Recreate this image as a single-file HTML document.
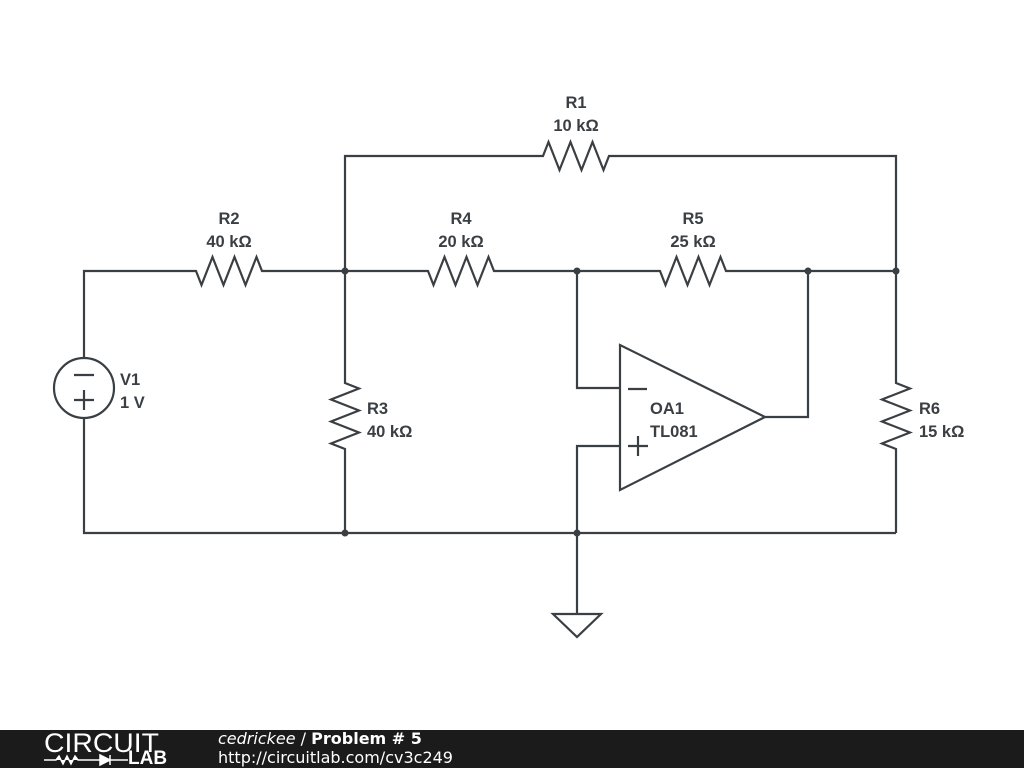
<!DOCTYPE html>
<html><head><style>
body{margin:0;background:#fff;width:1024px;height:768px;overflow:hidden;position:relative;font-family:"Liberation Sans","DejaVu Sans",sans-serif}
svg{position:absolute;left:0;top:0}
.t{font-family:"Liberation Sans","DejaVu Sans",sans-serif;font-weight:bold;font-size:16.5px;fill:#3a3f44}
#ft{position:absolute;left:0;top:730px;width:1024px;height:38px;background:#1b1b1b;color:#fff}
</style></head><body>
<svg width="1024" height="768" viewBox="0 0 1024 768">
<g fill="none" stroke="#3a3f44" stroke-width="2.2" stroke-linejoin="miter">
<path d="M345 271 V156 H543 l5.5 -14 l11 28 l11 -28 l11 28 l11 -28 l11 28 l5.5 -14 H896 V271"/>
<path d="M84 358 V271 H196 l5.5 14 l11 -28 l11 28 l11 -28 l11 28 l11 -28 l5.5 14 H345"/>
<path d="M345 271 H428 l5.5 14 l11 -28 l11 28 l11 -28 l11 28 l11 -28 l5.5 14 H577"/>
<path d="M577 271 H660 l5.5 14 l11 -28 l11 28 l11 -28 l11 28 l11 -28 l5.5 14 H896"/>
<path d="M345 271 V383 l14 5.5 l-28 11 l28 11 l-28 11 l28 11 l-28 11 l14 5.5 V533"/>
<path d="M896 271 V383 l14 5.5 l-28 11 l28 11 l-28 11 l28 11 l-28 11 l14 5.5 V533"/>
<circle cx="84" cy="388" r="30"/>
<path d="M74 375 H94 M74 400 H94 M84 390 V410"/>
<path d="M84 418 V533 H896"/>
<path d="M620 345 V490 L765 417 Z"/>
<path d="M577 271 V388 H620 M577 533 V446 H620 M765 417 H808 V271"/>
<path d="M628 389 H647 M628 446 H648 M638 436 V456"/>
<path d="M577 533 V614 M553 614 H601 L577 637 Z"/>
</g>
<g fill="#3a3f44">
<circle cx="345" cy="271" r="3.5"/><circle cx="577" cy="271" r="3.5"/>
<circle cx="808" cy="271" r="3.5"/><circle cx="896" cy="271" r="3.5"/>
<circle cx="345" cy="533" r="3.5"/><circle cx="577" cy="533" r="3.5"/>
</g>
<text class="t" x="576" y="108" text-anchor="middle">R1</text>
<text class="t" x="576" y="131" text-anchor="middle">10 kΩ</text>
<text class="t" x="229" y="224" text-anchor="middle">R2</text>
<text class="t" x="229" y="247" text-anchor="middle">40 kΩ</text>
<text class="t" x="461" y="224" text-anchor="middle">R4</text>
<text class="t" x="461" y="247" text-anchor="middle">20 kΩ</text>
<text class="t" x="693" y="224" text-anchor="middle">R5</text>
<text class="t" x="693" y="247" text-anchor="middle">25 kΩ</text>
<text class="t" x="367" y="414">R3</text>
<text class="t" x="367" y="437">40 kΩ</text>
<text class="t" x="919" y="414">R6</text>
<text class="t" x="919" y="437">15 kΩ</text>
<text class="t" x="120" y="385">V1</text>
<text class="t" x="120" y="408">1 V</text>
<text class="t" x="650" y="414">OA1</text>
<text class="t" x="650" y="437">TL081</text>
</svg>
<div id="ft">
<div style="position:absolute;left:44px;top:0px;font-size:27px;letter-spacing:0px;font-weight:normal;line-height:26px;transform:scaleX(1.05);transform-origin:left">CIRCUIT</div>
<svg width="140" height="14" style="position:absolute;left:44px;top:23px" viewBox="0 0 140 14"><path d="M0 7 H12 l3 -4 l4 8 l4 -8 l4 8 l4 -8 l3 4 H56 M56 2 V12 L66 7 Z M66 2 V12 M66 7 H84" stroke="#fff" fill="#fff" stroke-width="1.5"/></svg>
<div style="position:absolute;left:128px;top:19px;font-size:19px;font-weight:bold;line-height:20px">LAB</div>
<div style="position:absolute;left:218px;top:0px;font-size:16px;line-height:18px;font-family:'DejaVu Sans',sans-serif"><i>cedrickee</i> / <b>Problem # 5</b></div>
<div style="position:absolute;left:218px;top:19px;font-size:16px;line-height:18px;font-family:'DejaVu Sans',sans-serif">http://circuitlab.com/cv3c249</div>
</div>
</body></html>
